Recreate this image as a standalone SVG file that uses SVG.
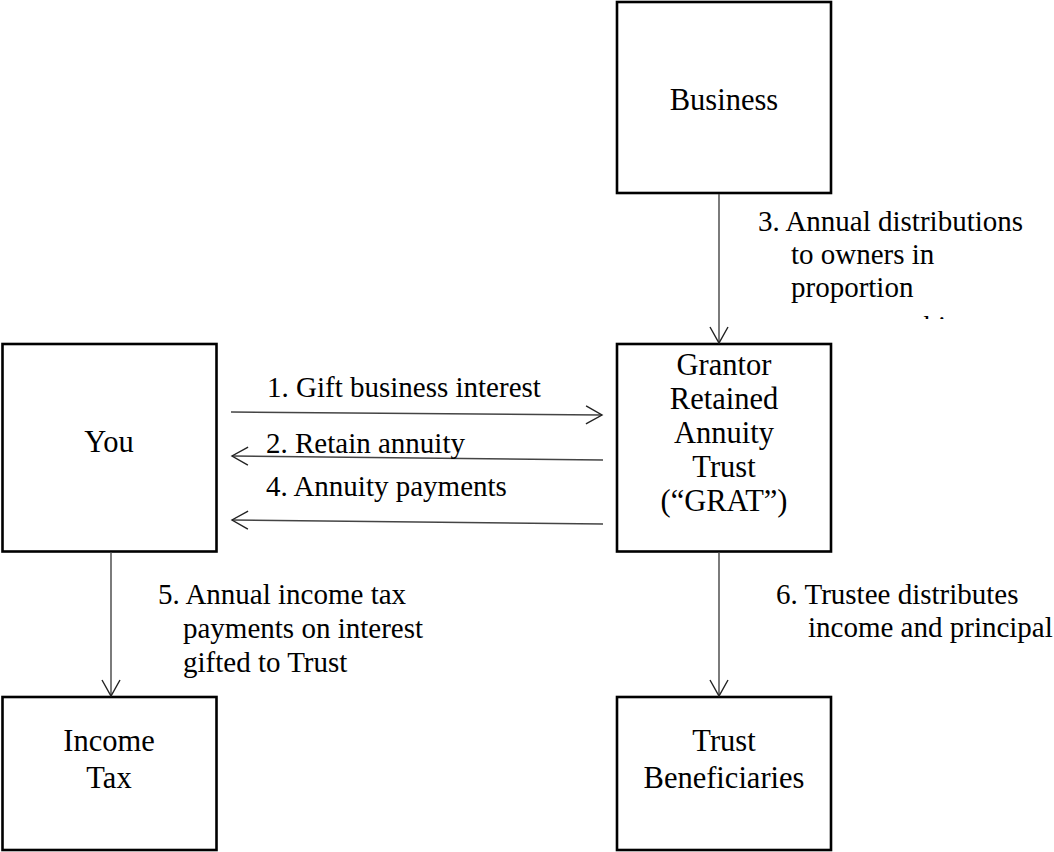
<svg xmlns="http://www.w3.org/2000/svg" width="1054" height="852" viewBox="0 0 1054 852">
<style>
.box{fill:#fff;stroke:#000;stroke-width:2.6}
.nt{font-family:"Liberation Serif","Times New Roman",serif;font-size:30.5px;fill:#000;text-anchor:middle}
.lb{font-family:"Liberation Serif","Times New Roman",serif;font-size:29px;fill:#000}
.cn{fill:none;stroke:#444;stroke-width:1.4;marker-end:url(#ah)}
</style>
<defs>
<marker id="ah" markerUnits="userSpaceOnUse" markerWidth="20" markerHeight="22" viewBox="-17 -11 19 22" refX="0" refY="0" orient="auto">
<path d="M-16,-9 L0,0 L-16,9" fill="none" stroke="#222" stroke-width="1.4"/>
</marker>
<clipPath id="clip3"><rect x="700" y="180" width="354" height="139"/></clipPath>
</defs>
<rect width="1054" height="852" fill="#fff"/>
<g id="business"><rect class="box" x="617" y="2" width="214" height="191"/><text class="nt" x="724" y="110">Business</text></g>
<g id="you"><rect class="box" x="2.5" y="344" width="214" height="207.5"/><text class="nt" x="109" y="452">You</text></g>
<g id="grat"><rect class="box" x="617" y="344" width="214" height="207.5"/>
<text class="nt" x="724" y="375">Grantor</text>
<text class="nt" x="724" y="409">Retained</text>
<text class="nt" x="724" y="443">Annuity</text>
<text class="nt" x="724" y="477">Trust</text>
<text class="nt" x="724" y="511">(“GRAT”)</text></g>
<g id="incometax"><rect class="box" x="2.5" y="697" width="214" height="153"/>
<text class="nt" x="109" y="751">Income</text><text class="nt" x="109" y="788">Tax</text></g>
<g id="beneficiaries"><rect class="box" x="617" y="697" width="214" height="153"/>
<text class="nt" x="724" y="751">Trust</text><text class="nt" x="724" y="788">Beneficiaries</text></g>
<g id="connectors">
<line class="cn" x1="719" y1="194" x2="719" y2="343"/>
<line class="cn" x1="231" y1="412" x2="602" y2="415"/>
<line class="cn" x1="603" y1="460" x2="232" y2="456"/>
<line class="cn" x1="603" y1="524" x2="232" y2="520"/>
<line class="cn" x1="111" y1="552" x2="111" y2="696"/>
<line class="cn" x1="719" y1="552" x2="719" y2="696"/>
</g>
<g id="labels">
<g clip-path="url(#clip3)">
<text class="lb" x="758" y="231">3. Annual distributions</text>
<text class="lb" x="791" y="264">to owners in</text>
<text class="lb" x="791" y="297">proportion</text>
<text class="lb" x="810" y="336">to ownership</text>
</g>
<text class="lb" x="267" y="397">1. Gift business interest</text>
<text class="lb" x="266" y="453">2. Retain annuity</text>
<text class="lb" x="266" y="496">4. Annuity payments</text>
<text class="lb" x="158" y="604">5. Annual income tax</text>
<text class="lb" x="183" y="638">payments on interest</text>
<text class="lb" x="183" y="672">gifted to Trust</text>
<text class="lb" x="776" y="604">6. Trustee distributes</text>
<text class="lb" x="808" y="637">income and principal</text>
</g>
</svg>
